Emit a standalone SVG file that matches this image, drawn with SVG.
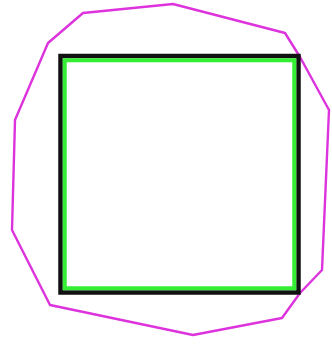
<svg xmlns="http://www.w3.org/2000/svg" width="332" height="345" viewBox="0 0 332 345">
<style>
.hull{fill:none;stroke:#dd33dd;stroke-width:2.4;stroke-linejoin:round}
.outer{fill:none;stroke:#111;stroke-width:4.5}
.inner{fill:none;stroke:#33ee33;stroke-width:4}
</style>
<rect width="332" height="345" fill="#fff"/>
<g id="hull">
<polygon class="hull" points="83,13 48,43 15,120 12,230 50,305 193,335 282,318 300,293 322,270 329,110 300,57 285,33 173,4"/>
</g>
<g id="square">
<rect class="outer" x="60.5" y="56" width="238" height="236.5"/>
<rect class="inner" x="64.75" y="60.25" width="229.5" height="228"/>
</g>
</svg>
